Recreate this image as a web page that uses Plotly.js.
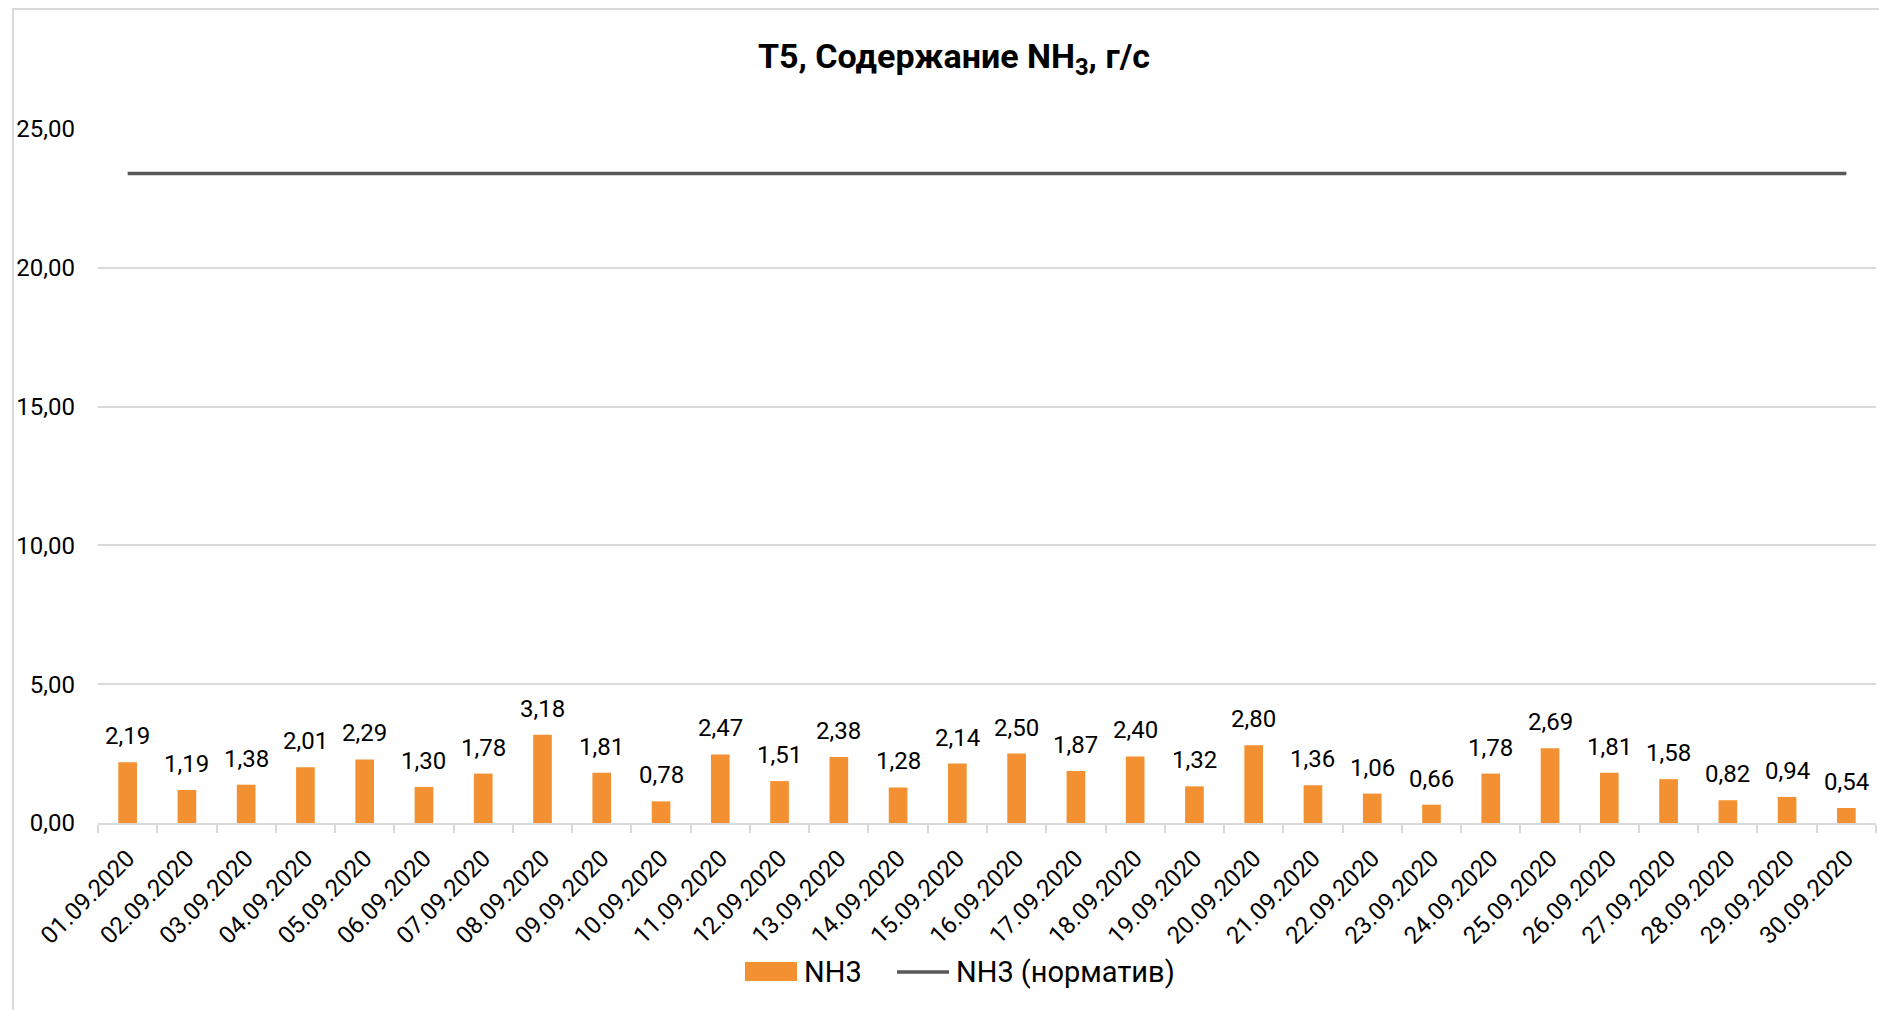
<!DOCTYPE html>
<html>
<head>
<meta charset="utf-8">
<script src="https://cdn.plot.ly/plotly-3.0.1.min.js"></script>
<style>
  html, body { margin: 0; padding: 0; background: #ffffff; }
  #chart { width: 1879px; height: 1010px; }
</style>
</head>
<body>
<div id="chart"></div>
<script>
const dates = ["01.09.2020","02.09.2020","03.09.2020","04.09.2020","05.09.2020","06.09.2020","07.09.2020","08.09.2020","09.09.2020","10.09.2020","11.09.2020","12.09.2020","13.09.2020","14.09.2020","15.09.2020","16.09.2020","17.09.2020","18.09.2020","19.09.2020","20.09.2020","21.09.2020","22.09.2020","23.09.2020","24.09.2020","25.09.2020","26.09.2020","27.09.2020","28.09.2020","29.09.2020","30.09.2020"];
const nh3 = [2.19,1.19,1.38,2.01,2.29,1.30,1.78,3.18,1.81,0.78,2.47,1.51,2.38,1.28,2.14,2.50,1.87,2.40,1.32,2.80,1.36,1.06,0.66,1.78,2.69,1.81,1.58,0.82,0.94,0.54];
const normValue = 23.4;
const norm = dates.map(() => normValue);
const yTickVals = [0,5,10,15,20,25];
const yTickText = ["0,00","5,00","10,00","15,00","20,00","25,00"];
const seriesNames = ["NH3", "NH3 (норматив)"];
const titleText = "T5, Содержание NH<sub>3</sub>, г/с";

const W = 1879, H = 1010;
const M = {l: 98, r: 3, t: 129, b: 187};
const pw = W - M.l - M.r, ph = H - M.t - M.b;
const FONT = "Roboto, 'Open Sans', sans-serif";
const BAR_COLOR = '#F39132';
const LINE_COLOR = '#595959';

// pixel -> paper helpers (layout only)
const px = x => (x - M.l) / pw;
const py = y => (M.t + ph - y) / ph;

const labelAnnotations = dates.map((d, i) => ({
  x: d, y: nh3[i], xref: 'x', yref: 'y',
  text: nh3[i].toFixed(2).replace('.', ','),
  showarrow: false, yanchor: 'bottom', xanchor: 'center', yshift: 10,
  font: {family: FONT, size: 24, color: '#000000'}
}));

// custom legend (text entries)
const legendY = 972;
const legendAnnotations = [
  {x: px(802), y: py(legendY), xref: 'paper', yref: 'paper', xanchor: 'left', yanchor: 'middle',
   text: seriesNames[0], showarrow: false, font: {family: FONT, size: 29, color: '#000000'}},
  {x: px(954), y: py(legendY), xref: 'paper', yref: 'paper', xanchor: 'left', yanchor: 'middle',
   text: seriesNames[1], showarrow: false, font: {family: FONT, size: 29, color: '#000000'}}
];

const traces = [
  {
    type: 'bar', name: seriesNames[0], x: dates, y: nh3,
    marker: {color: BAR_COLOR}, hoverinfo: 'x+y'
  },
  {
    type: 'scatter', mode: 'lines', name: seriesNames[1], x: dates, y: norm,
    line: {color: LINE_COLOR, width: 3.5}, hoverinfo: 'x+y'
  }
];

const layout = {
  width: W, height: H,
  margin: M,
  paper_bgcolor: '#ffffff', plot_bgcolor: '#ffffff',
  separators: ', ',
  bargap: 0.685,
  showlegend: false,
  title: {
    text: titleText, x: 954 / W, xref: 'container', xanchor: 'center',
    y: 1 - 56 / H, yref: 'container', yanchor: 'middle',
    font: {family: FONT, size: 34, color: '#000000', weight: 'bold'}
  },
  xaxis: {
    type: 'category', tickangle: -45,
    ticks: 'outside', tickson: 'boundaries', ticklen: 8, tickcolor: '#d9d9d9', tickwidth: 1.5,
    showline: true, linecolor: '#d9d9d9', linewidth: 1.5,
    showgrid: false, ticklabelstandoff: 10,
    tickfont: {family: FONT, size: 24, color: '#000000'},
    fixedrange: true
  },
  yaxis: {
    range: [0, 25], tickvals: yTickVals, ticktext: yTickText,
    showgrid: true, gridcolor: '#d9d9d9', gridwidth: 1.5,
    zeroline: false, showline: false, ticks: '',
    ticklabelstandoff: 22,
    tickfont: {family: FONT, size: 24, color: '#000000'},
    fixedrange: true
  },
  annotations: labelAnnotations.concat(legendAnnotations),
  shapes: [
    {
      type: 'rect', xref: 'paper', yref: 'paper', layer: 'below',
      x0: px(13), x1: px(W + 40), y0: py(H + 40), y1: py(9),
      line: {color: '#d9d9d9', width: 2}, fillcolor: 'rgba(0,0,0,0)'
    },
    {
      type: 'rect', xref: 'paper', yref: 'paper',
      x0: px(745), x1: px(797), y0: py(981), y1: py(962),
      line: {width: 0}, fillcolor: BAR_COLOR
    },
    {
      type: 'line', xref: 'paper', yref: 'paper',
      x0: px(897), x1: px(949), y0: py(legendY), y1: py(legendY),
      line: {color: LINE_COLOR, width: 3.5}
    }
  ]
};

Plotly.newPlot('chart', traces, layout, {displayModeBar: false});
</script>
</body>
</html>
